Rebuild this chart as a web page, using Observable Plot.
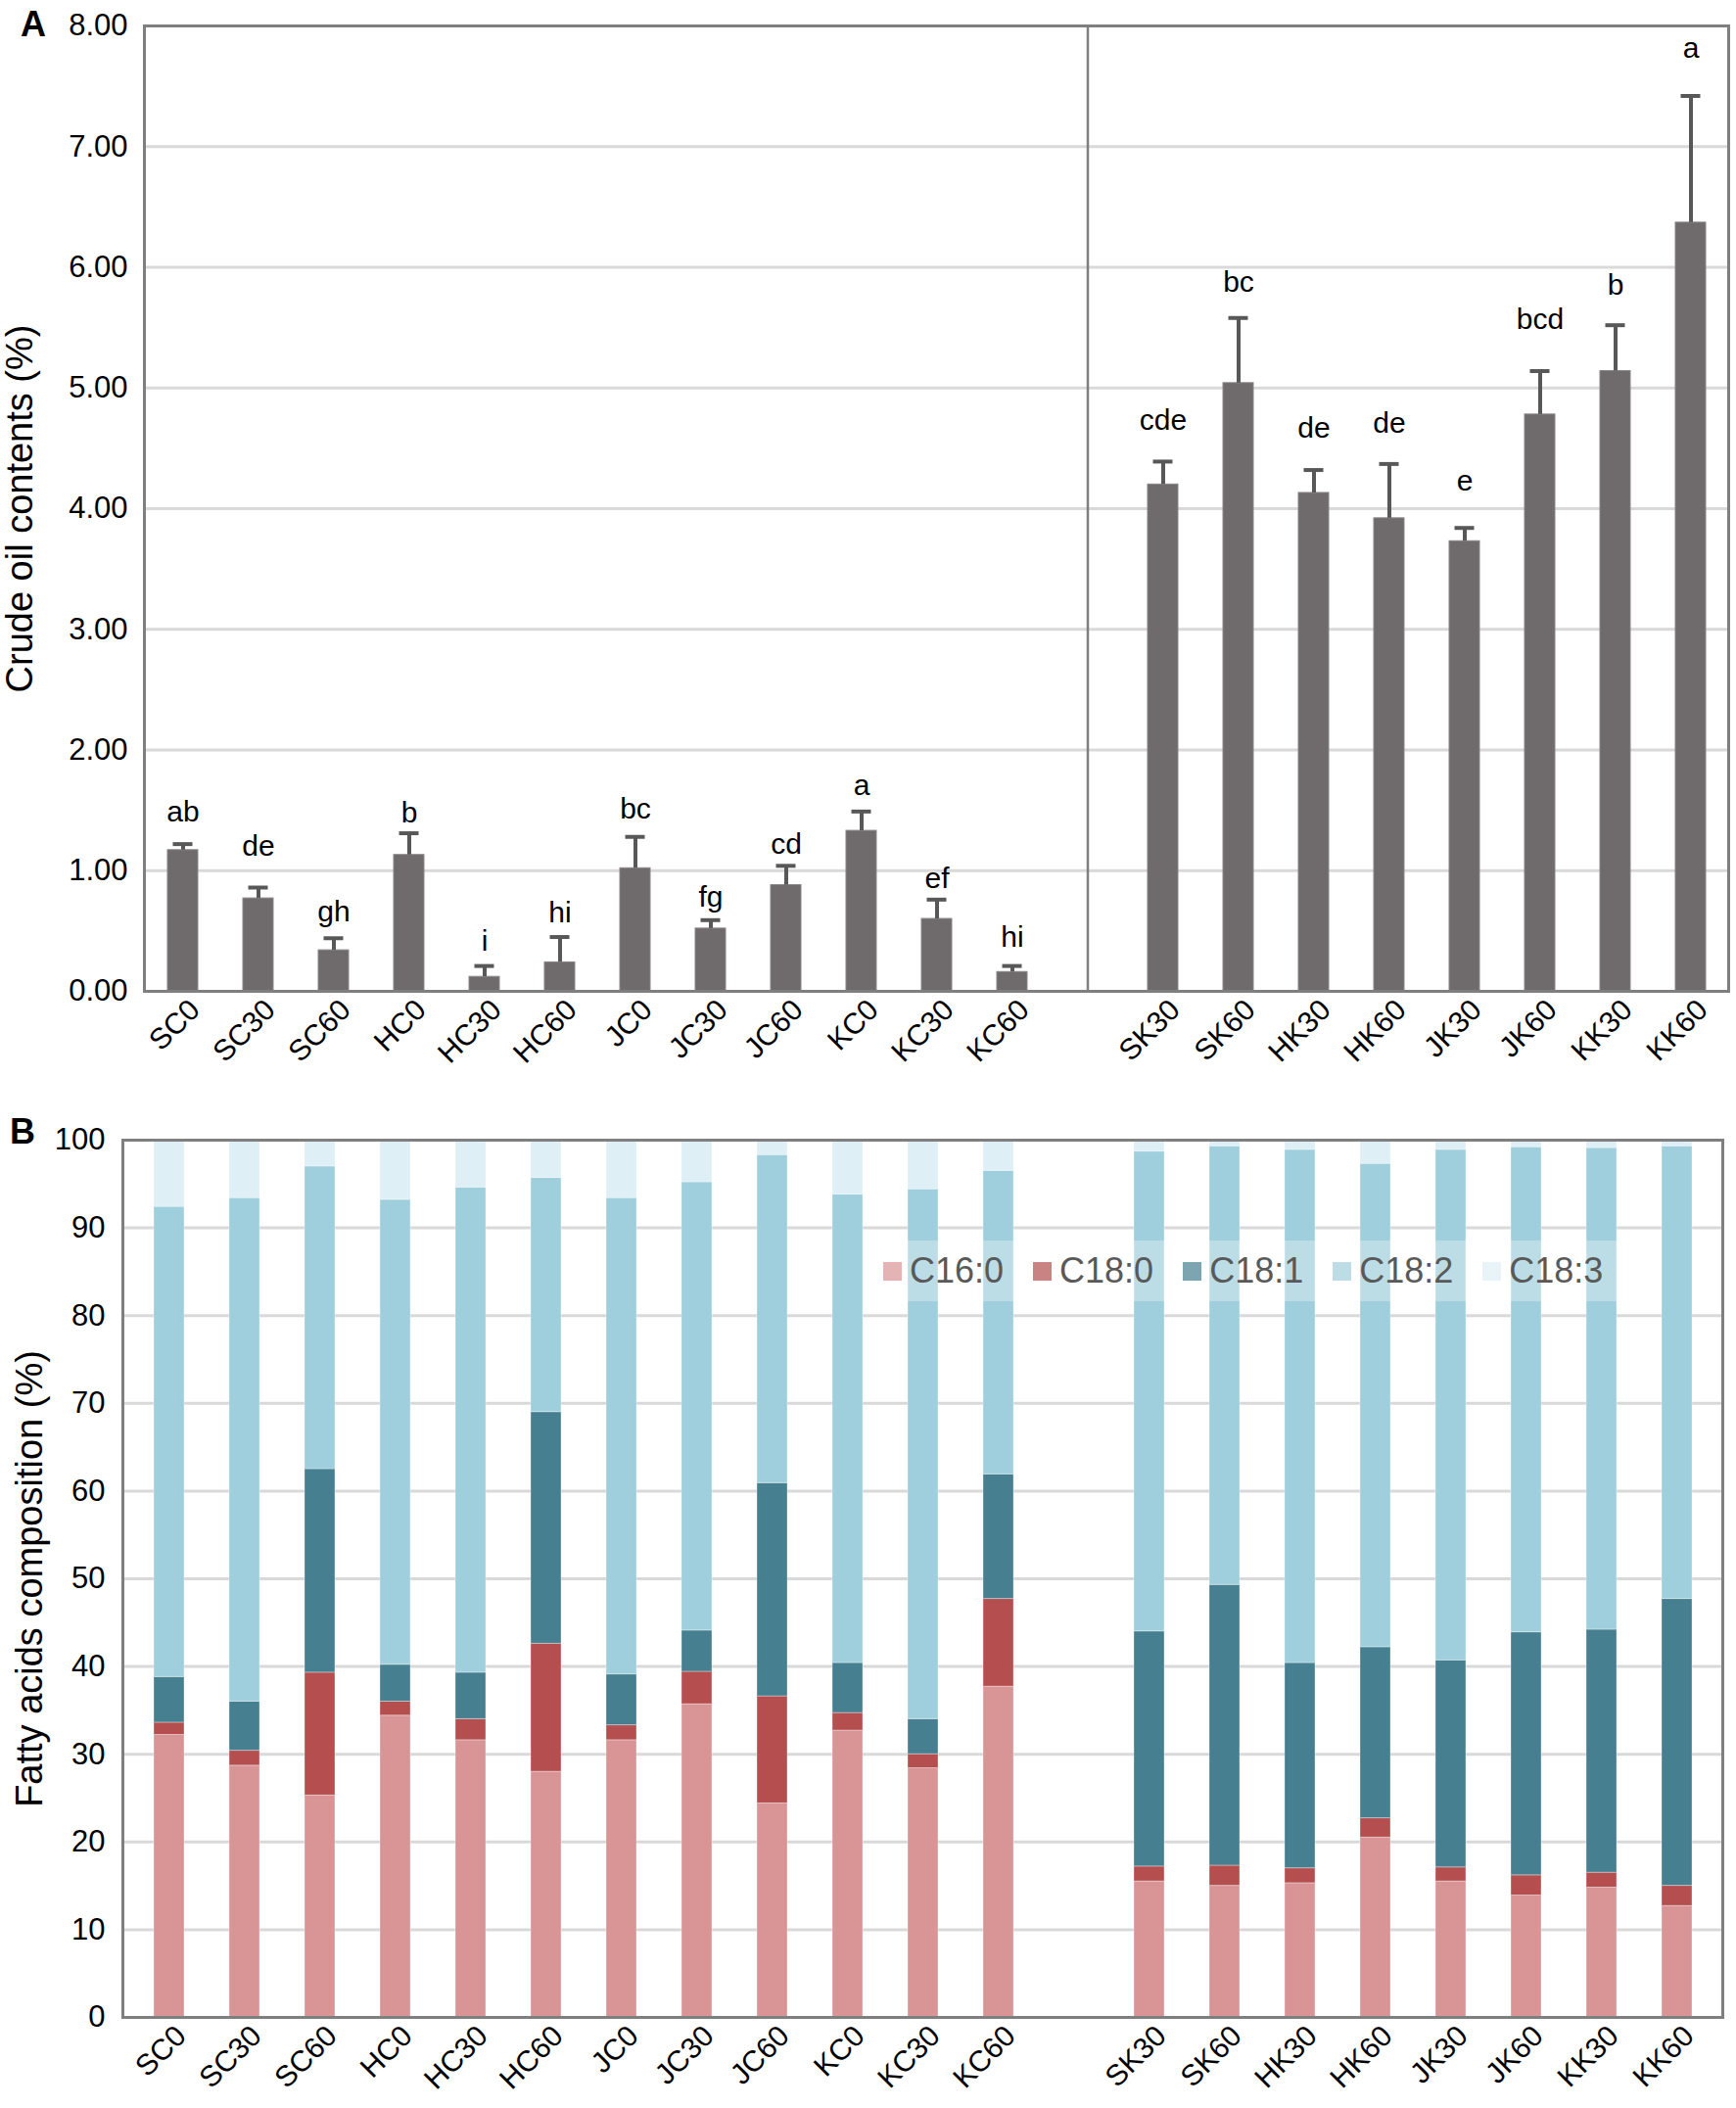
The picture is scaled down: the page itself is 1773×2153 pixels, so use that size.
<!DOCTYPE html>
<html>
<head>
<meta charset="utf-8">
<script src="https://cdn.jsdelivr.net/npm/d3@7"></script>
<script src="https://cdn.jsdelivr.net/npm/@observablehq/plot@0.6"></script>
<style>
  body { margin: 0; background: #fff; font-family: "Liberation Sans", Arial, sans-serif; }
  #wrap { position: relative; width: 1773px; height: 2153px; overflow: hidden; }
  #chartA, #chartB { display: block; line-height: 0; }
  .panel-label { position: absolute; font-weight: bold; font-size: 36px; line-height: 1; color: #000; }
  #legend { position: absolute; left: 890px; top: 1267px; width: 775px; height: 62px;
            background: rgba(255,255,255,0.3); display: flex; align-items: center;
            box-sizing: border-box; padding-left: 12px; gap: 30px; }
  .item { display: flex; align-items: center; font-size: 36px; color: #595959; line-height: 1; }
  .sw { width: 19px; height: 19px; margin-right: 8px; opacity: 0.7; }
</style>
</head>
<body>
<div id="wrap">
  <div id="chartA"></div>
  <div id="chartB"></div>
  <div class="panel-label" style="left:21px; top:7px;">A</div>
  <div class="panel-label" style="left:10px; top:1138px;">B</div>
  <div id="legend"></div>
</div>
<script>
// ---- Categories ----
const leftGroups  = ["SC0","SC30","SC60","HC0","HC30","HC60","JC0","JC30","JC60","KC0","KC30","KC60"];
const rightGroups = ["SK30","SK60","HK30","HK60","JK30","JK60","KK30","KK60"];
const gapKey = " ";

// ---- Panel A: crude oil contents (%) ----
const oilMean = [1.17,0.77,0.34,1.13,0.12,0.24,1.02,0.52,0.88,1.33,0.60,0.16,
                 4.20,5.04,4.13,3.92,3.73,4.78,5.14,6.37];
const oilSd   = [0.05,0.09,0.10,0.18,0.09,0.21,0.26,0.07,0.16,0.16,0.16,0.05,
                 0.19,0.54,0.19,0.45,0.11,0.36,0.38,1.05];
const letters = ["ab","de","gh","b","i","hi","bc","fg","cd","a","ef","hi",
                 "cde","bc","de","de","e","bcd","b","a"];
const letterAt = [1.41,1.12,0.58,1.40,0.34,0.57,1.43,0.70,1.14,1.63,0.86,0.37,
                  4.65,5.80,4.59,4.63,4.15,5.49,5.77,7.74];
const oilTicks = [0,1,2,3,4,5,6,7,8];

// ---- Panel B: fatty acids composition (%) ----
const acids = ["C16:0","C18:0","C18:1","C18:2","C18:3"];
const c160 = [32.2,28.7,25.3,34.4,31.6,28.0,31.6,35.7,24.4,32.7,28.4,37.7,
              15.5,15.0,15.3,20.5,15.5,13.9,14.8,12.7];
const c180 = [1.4,1.7,14.0,1.6,2.4,14.6,1.7,3.7,12.2,2.0,1.6,10.0,
              1.7,2.3,1.7,2.2,1.6,2.3,1.7,2.3];
const c181 = [5.2,5.6,23.2,4.2,5.3,26.4,5.8,4.7,24.3,5.7,4.0,14.2,
              26.8,32.0,23.4,19.5,23.6,27.7,27.7,32.7];
const c182 = [53.6,57.4,34.5,53.0,55.3,26.7,54.3,51.1,37.4,53.4,60.4,34.6,
              54.7,50.0,58.5,55.1,58.2,55.3,54.9,51.6];
const c183 = [7.6,6.6,3.0,6.8,5.4,4.3,6.6,4.8,1.7,6.2,5.6,3.5,
              1.3,0.7,1.1,2.7,1.1,0.8,0.9,0.7];
const compTicks = [0,10,20,30,40,50,60,70,80,90,100];
const acidColors = ["#d99496","#b44e4f","#467f90","#9fcfdc","#dfeff6"];

// ---- Build tables ----
const groups = [...leftGroups, ...rightGroups];
const xDomain = [...leftGroups, gapKey, ...rightGroups];
const oilRows = groups.map((g, i) => ({group: g, mean: oilMean[i], top: oilMean[i] + oilSd[i],
                                        letter: letters[i], at: letterAt[i]}));
const acidSeries = [c160, c180, c181, c182, c183];
const compRows = groups.flatMap((g, i) => acids.map((a, j) => ({group: g, acid: a, value: acidSeries[j][i]})));

const font = "'Liberation Sans', Arial, sans-serif";
const gridColor = "#d9d9d9";
const frameColor = "#7f7f7f";

// ---- Panel A ----
const chartA = Plot.plot({
  width: 1773, height: 1100,
  marginTop: 26, marginLeft: 147, marginRight: 8, marginBottom: 88,
  style: {fontFamily: font, fontSize: "30px", color: "#000", background: "#fff"},
  x: {domain: xDomain, paddingInner: 0.6, paddingOuter: 0.3},
  y: {domain: [0, 8]},
  marks: [
    Plot.gridY(oilTicks, {stroke: gridColor, strokeOpacity: 1, strokeWidth: 3}),
    Plot.ruleX([gapKey], {stroke: frameColor, strokeWidth: 2.5}),
    Plot.barY(oilRows, {x: "group", y: "mean", fill: "#6f6a6c", stroke: "#8a8587", strokeWidth: 1}),
    Plot.ruleX(oilRows, {x: "group", y1: "mean", y2: "top", stroke: "#585858", strokeWidth: 4}),
    Plot.tickY(oilRows, {x: "group", y: "top", stroke: "#585858", strokeWidth: 4, insetLeft: 5.5, insetRight: 5.5}),
    Plot.text(oilRows, {x: "group", y: "at", text: "letter", lineAnchor: "bottom", fontSize: 30, fill: "#000"}),
    Plot.axisY(oilTicks, {tickFormat: d3.format(".2f"), tickSize: 0, tickPadding: 17, label: null, fontSize: 31}),
    Plot.text(["Crude oil contents (%)"], {text: d => d, frameAnchor: "left", rotate: -90, dx: -141,
               lineAnchor: "top", textAnchor: "middle", fontSize: 38, fill: "#000"}),
    Plot.axisX({tickRotate: -45, tickSize: 0, tickPadding: 14, dx: 12, label: null, fontSize: 30}),
    Plot.frame({stroke: frameColor, strokeWidth: 3})
  ]
});
document.getElementById("chartA").appendChild(chartA);

// ---- Panel B ----
const chartB = Plot.plot({
  width: 1773, height: 1053,
  marginTop: 64, marginLeft: 125, marginRight: 14, marginBottom: 93,
  style: {fontFamily: font, fontSize: "30px", color: "#000", background: "#fff"},
  x: {domain: xDomain, paddingInner: 0.6, paddingOuter: 0.3},
  y: {domain: [0, 100]},
  color: {domain: acids, range: acidColors},
  marks: [
    Plot.gridY(compTicks, {stroke: gridColor, strokeOpacity: 1, strokeWidth: 3}),
    Plot.barY(compRows, {x: "group", y: "value", fill: "acid", stroke: "#ffffff", strokeOpacity: 0.35, strokeWidth: 1}),
    Plot.axisY(compTicks, {tickSize: 0, tickPadding: 18, label: null, fontSize: 31}),
    Plot.text(["Fatty acids composition (%)"], {text: d => d, frameAnchor: "left", rotate: -90, dx: -109,
               lineAnchor: "top", textAnchor: "middle", fontSize: 38, fill: "#000"}),
    Plot.axisX({tickRotate: -45, tickSize: 0, tickPadding: 14, dx: 12, label: null, fontSize: 30}),
    Plot.frame({stroke: frameColor, strokeWidth: 3})
  ]
});
document.getElementById("chartB").appendChild(chartB);

// ---- Legend (Panel B) ----
const legend = document.getElementById("legend");
acids.forEach((a, i) => {
  const item = document.createElement("div");
  item.className = "item";
  const sw = document.createElement("span");
  sw.className = "sw";
  sw.style.background = acidColors[i];
  const t = document.createElement("span");
  t.textContent = a;
  item.appendChild(sw);
  item.appendChild(t);
  legend.appendChild(item);
});
</script>
</body>
</html>
